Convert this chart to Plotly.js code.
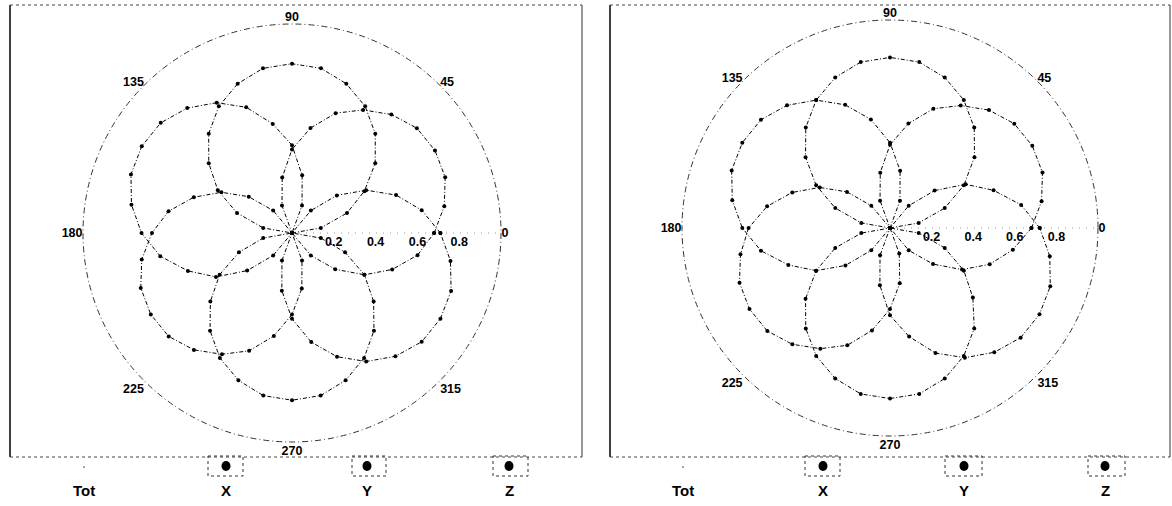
<!DOCTYPE html>
<html>
<head>
<meta charset="utf-8">
<script src="https://cdn.plot.ly/plotly-3.0.1.min.js"></script>
<style>html,body{margin:0;padding:0;background:#fff;}#chart{width:1172px;height:506px;}</style>
</head>
<body>
<div id="chart"></div>
<script>
// Angles (degrees) at which each pattern was sampled
const theta = [0,10,20,30,40,50,60,70,80,90,100,110,120,130,140,150,160,170,180,190,200,210,220,230,240,250,260,270,280,290,300,310,320,330,340,350,360];

// Left chart: three figure-eight patterns
const leftX = [0.68,0.74,0.78,0.79,0.78,0.74,0.68,0.61,0.51,0.40,0.27,0.14,0,0.14,0.27,0.39,0.50,0.60,0.67,0.73,0.77,0.78,0.77,0.73,0.67,0.60,0.50,0.39,0.27,0.14,0,0.14,0.27,0.40,0.51,0.61,0.68];
const leftY = [0,0.14,0.28,0.40,0.52,0.62,0.70,0.76,0.80,0.81,0.80,0.76,0.70,0.62,0.52,0.41,0.28,0.14,0,0.14,0.27,0.40,0.51,0.61,0.69,0.75,0.79,0.80,0.79,0.75,0.69,0.61,0.51,0.40,0.27,0.14,0];
const leftZ = [0.71,0.63,0.53,0.41,0.28,0.14,0,0.14,0.28,0.42,0.53,0.64,0.72,0.78,0.82,0.83,0.82,0.78,0.72,0.64,0.53,0.42,0.28,0.14,0,0.14,0.28,0.41,0.53,0.63,0.71,0.77,0.81,0.82,0.81,0.77,0.71];

// Right chart
const rightX = [0.68,0.74,0.78,0.79,0.78,0.74,0.68,0.61,0.51,0.40,0.27,0.14,0,0.14,0.27,0.39,0.50,0.60,0.68,0.73,0.77,0.78,0.77,0.73,0.67,0.60,0.50,0.39,0.27,0.13,0,0.14,0.27,0.40,0.51,0.60,0.68];
const rightY = [0,0.14,0.28,0.41,0.53,0.63,0.71,0.77,0.81,0.82,0.81,0.77,0.71,0.63,0.53,0.41,0.28,0.14,0,0.14,0.28,0.41,0.53,0.63,0.71,0.77,0.81,0.82,0.81,0.77,0.71,0.63,0.52,0.41,0.28,0.14,0];
const rightZ = [0.72,0.64,0.53,0.42,0.28,0.14,0,0.14,0.28,0.41,0.53,0.63,0.71,0.77,0.81,0.82,0.81,0.77,0.71,0.63,0.52,0.41,0.28,0.14,0,0.14,0.28,0.42,0.53,0.64,0.72,0.78,0.82,0.83,0.82,0.78,0.72];

const angleTicks = [0,45,90,135,180,225,270,315];
const angleLabels = ['0','45','90','135','180','225','270','315'];
const radialTicks = [0.2,0.4,0.6,0.8];
const radialLabels = ['0.2','0.4','0.6','0.8'];
const legendLabels = ['Tot','X','Y','Z'];

const W = 1172, H = 506;
const fx = p => p / W;
const fy = p => 1 - p / H;

function trace(r, sub){
  return {type:'scatterpolar', r:r, theta:theta, subplot:sub, mode:'lines+markers',
    line:{color:'#000', width:1, dash:'4px,2px,1px,2px'},
    marker:{color:'#000', size:4, symbol:'circle'}, showlegend:false, hoverinfo:'skip'};
}

const data = [
  trace(leftX,'polar'), trace(leftY,'polar'), trace(leftZ,'polar'),
  trace(rightX,'polar2'), trace(rightY,'polar2'), trace(rightZ,'polar2')
];

const angFont = {family:'Liberation Sans, Arial, sans-serif', size:12.5, color:'#000', weight:'bold'};
const radFont = {family:'Liberation Sans, Arial, sans-serif', size:12.5, color:'#000', weight:'bold'};

const shapes = [];
const annotations = [];

function polar(x0,x1,y0,y1){
  // outer circle (dash-dot) and faint dotted 0-degree axis
  shapes.push({type:'circle', xref:'paper', yref:'paper', layer:'below', x0:fx(x0), x1:fx(x1), y0:fy(y1), y1:fy(y0),
    line:{color:'#333', width:1, dash:'6px,3px,1px,3px'}});
  const cy = (y0+y1)/2, cx = (x0+x1)/2;
  shapes.push({type:'line', xref:'paper', yref:'paper', layer:'below', x0:fx(cx), x1:fx(x1), y0:fy(cy), y1:fy(cy),
    line:{color:'#999', width:1, dash:'1px,6px'}});
  return {
    domain:{x:[fx(x0),fx(x1)], y:[fy(y1),fy(y0)]},
    bgcolor:'rgba(0,0,0,0)',
    angularaxis:{rotation:0, direction:'counterclockwise', tickmode:'array', tickvals:angleTicks, ticktext:angleLabels,
      showgrid:false, ticks:'', showline:false, tickfont:angFont},
    radialaxis:{range:[0,1], angle:0, tickangle:0, tickmode:'array', tickvals:radialTicks, ticktext:radialLabels,
      showgrid:false, ticks:'', showline:false, tickfont:radFont}
  };
}

function panel(left, right, tot, xs, boxes){
  // frame
  shapes.push({type:'line', xref:'paper', yref:'paper', x0:fx(left), x1:fx(left), y0:fy(5), y1:fy(457), line:{color:'#000', width:1.5}});
  shapes.push({type:'line', xref:'paper', yref:'paper', x0:fx(right), x1:fx(right), y0:fy(5), y1:fy(457), line:{color:'#333', width:1}});
  shapes.push({type:'line', xref:'paper', yref:'paper', x0:fx(left), x1:fx(right), y0:fy(5), y1:fy(5), line:{color:'#444', width:1, dash:'dot'}});
  shapes.push({type:'line', xref:'paper', yref:'paper', x0:fx(left), x1:fx(right), y0:fy(457), y1:fy(457), line:{color:'#444', width:1, dash:'dot'}});
  // legend buttons
  const labelX = [tot].concat(xs);
  for (let i=0;i<4;i++){
    annotations.push({xref:'paper', yref:'paper', x:fx(labelX[i]), y:fy(490), text:legendLabels[i], showarrow:false,
      font:{family:'Liberation Sans, Arial, sans-serif', size:15, color:'#000', weight:'bold'}, xanchor:'center', yanchor:'middle'});
  }
  shapes.push({type:'circle', xref:'paper', yref:'paper', x0:fx(tot-1), x1:fx(tot+1), y0:fy(466), y1:fy(468), fillcolor:'#888', line:{width:0}});
  for (let i=0;i<3;i++){
    const c = xs[i];
    shapes.push({type:'rect', xref:'paper', yref:'paper', x0:fx(boxes[i][0]), x1:fx(boxes[i][1]), y0:fy(456), y1:fy(476), line:{color:'#333', width:1, dash:'dot'}});
    shapes.push({type:'circle', xref:'paper', yref:'paper', x0:fx(c-4.5), x1:fx(c+4.5), y0:fy(461), y1:fy(471), fillcolor:'#000', line:{width:0}});
  }
}

const polar1 = polar(83, 501, 24, 442);
const polar2 = polar(682, 1098, 20, 436);
panel(10, 582, 84, [226, 367, 509], [[208,243],[352,386],[493,528]]);
panel(610, 1170, 683, [823, 964, 1105], [[805,840],[945,982],[1088,1125]]);

const layout = {
  width:W, height:H, margin:{l:0,r:0,t:0,b:0}, paper_bgcolor:'#fff', plot_bgcolor:'#fff',
  showlegend:false,
  polar: polar1,
  polar2: polar2,
  shapes: shapes, annotations: annotations
};

Plotly.newPlot('chart', data, layout, {staticPlot:true, displayModeBar:false});
</script>
</body>
</html>
